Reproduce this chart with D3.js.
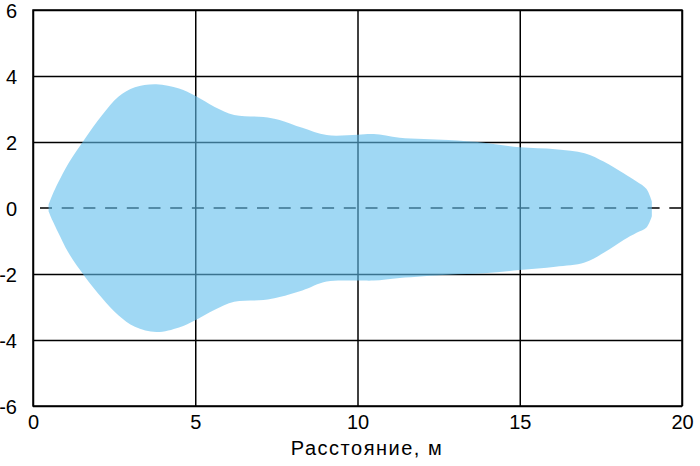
<!DOCTYPE html>
<html>
<head>
<meta charset="utf-8">
<script src="https://cdn.jsdelivr.net/npm/d3@7"></script>
<style>
  body { margin: 0; background: #fff; }
  text { font-family: "Liberation Sans", Arial, sans-serif; fill: #000; }
</style>
</head>
<body>
<div id="chart"></div>
<script>
/* Zone shape vs distance */

// distance, m
const dist  = [0.48, 0.6, 0.78, 1.09, 1.6, 2.12, 2.63, 3.14, 3.8, 4.5, 5.0, 5.6, 6.2, 7.1, 7.6, 8.3, 9.05, 10.0, 10.5, 11.3, 12.8, 13.9, 15.0, 16.1, 17.0, 17.6, 18.2, 18.6, 18.9, 19.07];
// upper and lower edge
const upper = [0.1, 0.4, 0.78, 1.35, 2.1, 2.8, 3.37, 3.66, 3.75, 3.62, 3.4, 3.06, 2.82, 2.76, 2.67, 2.43, 2.21, 2.22, 2.24, 2.13, 2.06, 1.98, 1.84, 1.78, 1.66, 1.40, 1.05, 0.80, 0.58, 0.2];
const lower = [-0.1, -0.38, -0.75, -1.35, -2.08, -2.72, -3.25, -3.6, -3.76, -3.62, -3.4, -3.08, -2.84, -2.79, -2.7, -2.5, -2.23, -2.2, -2.2, -2.12, -2.02, -1.98, -1.88, -1.78, -1.65, -1.35, -0.97, -0.75, -0.6, -0.25];

const xTicks = [0, 5, 10, 15, 20];
const yTicks = [-6, -4, -2, 0, 2, 4, 6];
const xTitle = "Расстояние, м";

const width = 700,
      height = 466,
      margin = ({ top: 10, right: 18, bottom: 60, left: 33 });

const data = dist.map((d, i) => ({ x: d, hi: upper[i], lo: lower[i] }));

const svg = d3.select("#chart")
    .append("svg")
    .attr("width", width)
    .attr("height", height);

const x = d3.scaleLinear()
    .domain([0, 20])
    .range([margin.left, width - margin.right]);

const y = d3.scaleLinear()
    .domain([-6, 6])
    .range([height - margin.bottom, margin.top]);

// grid (drawn first, fill goes over it semi-transparent)
svg.append("g")
    .attr("transform", `translate(0, ${height - margin.bottom})`)
    .call(d3.axisBottom(x).tickValues(xTicks).tickSize(-(height - margin.top - margin.bottom)).tickPadding(9))
    .call(g => g.select(".domain").remove())
    .call(g => g.selectAll("line").attr("stroke", "#000").attr("stroke-width", 1.5))
    .call(g => g.selectAll("text").style("font-size", "20px"));

svg.append("g")
    .attr("transform", `translate(${margin.left}, 0)`)
    .call(d3.axisLeft(y).tickValues(yTicks).tickFormat(d => String(d))
        .tickSize(-(width - margin.left - margin.right)).tickPadding(16))
    .call(g => g.select(".domain").remove())
    .call(g => g.selectAll("line").attr("stroke", "#000").attr("stroke-width", 1.5))
    .call(g => g.selectAll(".tick").filter(d => d === 0).select("line").remove())
    .call(g => g.selectAll("text").style("font-size", "20px").attr("dy", "0.36em"));

// dashed axis line at 0
svg.append("line")
    .attr("x1", x(0)).attr("x2", x(20))
    .attr("y1", y(0)).attr("y2", y(0))
    .attr("stroke", "#000")
    .attr("stroke-width", 1.5)
    .attr("stroke-dasharray", "12,9.7")
    .attr("stroke-dashoffset", -7);

const area = d3.area()
    .x(d => x(d.x))
    .y0(d => y(d.lo))
    .y1(d => y(d.hi))
    .curve(d3.curveCatmullRom.alpha(0.5));

svg.append("path")
    .datum(data)
    .attr("d", area)
    .attr("fill", "#61beed")
    .attr("fill-opacity", 0.6);

// frame
svg.append("rect")
    .attr("x", x(0)).attr("y", y(6))
    .attr("width", x(20) - x(0))
    .attr("height", y(-6) - y(6))
    .attr("fill", "none")
    .attr("stroke", "#000")
    .attr("stroke-width", 1.5);

svg.append("text")
    .attr("x", 367)
    .attr("y", 455)
    .attr("text-anchor", "middle")
    .style("font-size", "20px")
    .style("letter-spacing", "1.5px")
    .text(xTitle);
</script>
</body>
</html>
